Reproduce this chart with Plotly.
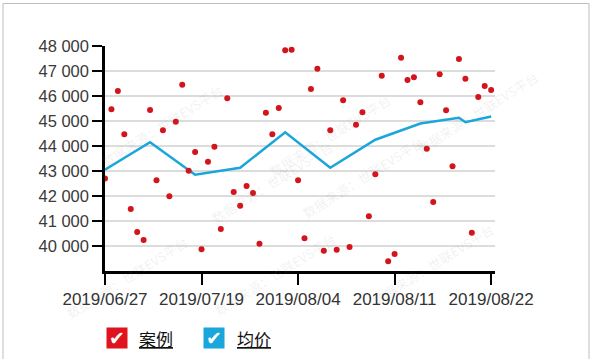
import plotly.graph_objects as go

# ---- data ----
case_idx = list(range(61))
case_values = [42700, 45470, 46200, 44470, 41480, 40560, 40240, 45440, 42630, 44630,
               41990, 44970, 46450, 43010, 43760, 39870, 43370, 43970, 40680, 45910,
               42160, 41610, 42400, 42120, 40090, 45330, 44470, 45520, 47830, 47850,
               42630, 40310, 46280, 47090, 39810, 44630, 39850, 45830, 39960, 44850,
               45350, 41190, 42870, 46810, 39390, 39680, 47530, 46640, 46750, 45750,
               43890, 41760, 46870, 45430, 43190, 47480, 46690, 40530, 45960, 46400,
               46240]
avg_idx = [0, 7, 14, 21, 28, 35, 42, 49, 55, 56, 60]
avg_values = [43050, 44150, 42850, 43130, 44550, 43130, 44250, 44900, 45130, 44950, 45180]
tick_idx = [0, 15, 30, 45, 60]
tick_labels = ["2019/06/27", "2019/07/19", "2019/08/04", "2019/08/11", "2019/08/22"]
y_ticks = [40000, 41000, 42000, 43000, 44000, 45000, 46000, 47000, 48000]
series_names = ["案例", "均价"]
colors = ["#e0141e", "#1aa6db"]

FONT = "Liberation Sans, Arial, sans-serif"

fig = go.Figure()
fig.add_trace(go.Scatter(x=avg_idx, y=avg_values, mode="lines", name=series_names[1],
                         line=dict(color=colors[1], width=2.5), showlegend=False))
fig.add_trace(go.Scatter(x=case_idx, y=case_values, mode="markers", name=series_names[0],
                         marker=dict(color="#d4141c", size=6, line=dict(width=0)),
                         showlegend=False))

L, R, T, B = 105, 97, 46, 88
W, H = 592, 359
pw, ph = W - L - R, H - T - B

def px(xp):
    return (xp - L) / pw

def py(yp):
    return (H - B - yp) / ph

fig.update_layout(
    width=W, height=H,
    margin=dict(l=L, r=R, t=T, b=B),
    paper_bgcolor="white", plot_bgcolor="white",
    separators=". ",
    font=dict(family=FONT, size=16, color="#333333"),
    xaxis=dict(range=[0, 60.6], tickmode="array", tickvals=tick_idx, ticktext=tick_labels,
               showgrid=False, zeroline=False, showline=True, linecolor="black", linewidth=2.5,
               ticks="outside", ticklen=11, tickwidth=1.5, tickcolor="black",
               tickfont=dict(size=17, color="#333333")),
    yaxis=dict(range=[39000, 48000], tickmode="array", tickvals=y_ticks, tickformat=",d",
               showgrid=True, gridcolor="#dcdcdc", gridwidth=1.5, zeroline=False,
               showline=True, linecolor="black", linewidth=2.5,
               ticks="outside", ticklen=10, tickwidth=1.5, tickcolor="black",
               tickfont=dict(size=16.5, color="#3a3a3a")),
    showlegend=False,
)

# frame around the picture
fig.add_shape(type="rect", xref="paper", yref="paper",
              x0=px(3), x1=px(589), y0=py(370), y1=py(3.5),
              line=dict(color="#bdbdbd", width=1), fillcolor="rgba(0,0,0,0)", layer="below")

# watermarks
wm = "数据来源：世联EVS平台"
for (cx, cy) in [(95, 125), (330, 135), (545, 65), (205, 230), (430, 225), (60, 325), (275, 322), (500, 312)]:
    fig.add_annotation(x=px(cx), y=py(cy), xref="paper", yref="paper", text=wm, showarrow=False,
                       textangle=-32, font=dict(size=13, color="rgba(120,120,120,0.11)", family="Noto Sans CJK SC"))

# custom legend (checkbox style)
leg_y = py(338)
for i, (sx, tx) in enumerate([(116.5, 137), (214, 235)]):
    fig.add_annotation(x=px(sx), y=leg_y, xref="paper", yref="paper", text="✔", showarrow=False,
                       bgcolor=colors[i], width=20, height=20, borderpad=0,
                       font=dict(size=19, color="white", family="DejaVu Sans"),
                       xanchor="center", yanchor="middle")
    fig.add_annotation(x=px(tx), y=leg_y, xref="paper", yref="paper",
                       text="<u>" + series_names[i] + "</u>", showarrow=False,
                       xanchor="left", yanchor="middle",
                       font=dict(size=17, color="#111111", family="Noto Sans CJK SC"))

fig.write_html("out.html")
